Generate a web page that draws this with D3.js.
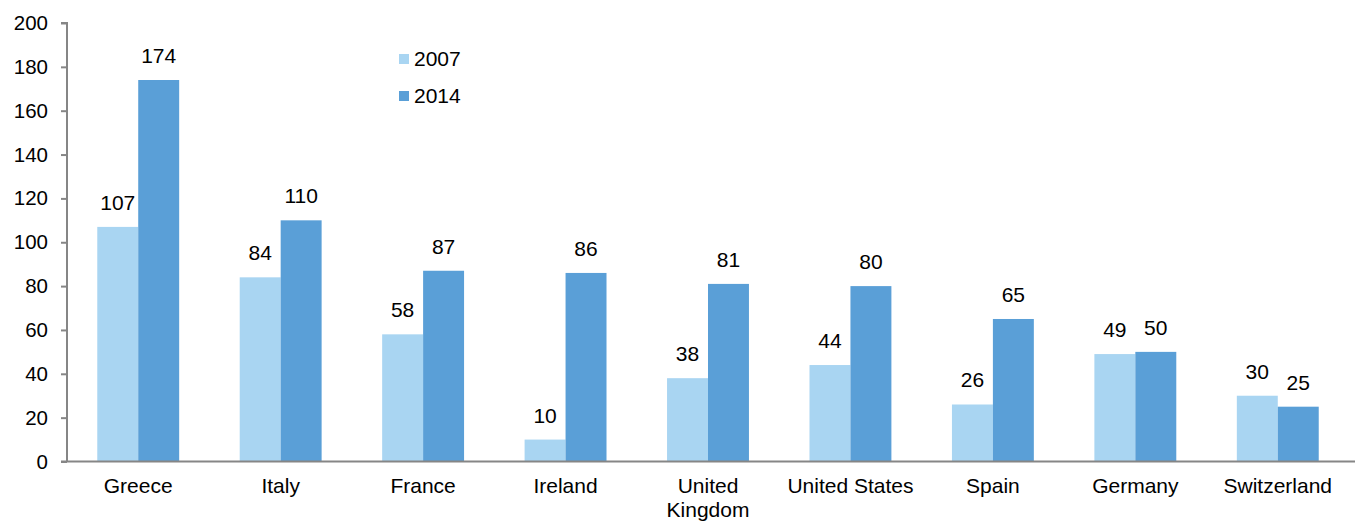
<!DOCTYPE html>
<html>
<head>
<meta charset="utf-8">
<script src="https://cdn.jsdelivr.net/npm/d3@7"></script>
<style>
  html, body { margin: 0; padding: 0; background: #fff; }
  svg { display: block; }
  text { font-family: "Liberation Sans", Arial, sans-serif; fill: #000; }
</style>
</head>
<body>
<svg id="chart" width="1355" height="522"></svg>
<script>
// Government debt, % of GDP
const countries = ["Greece", "Italy", "France", "Ireland", "United Kingdom", "United States", "Spain", "Germany", "Switzerland"];
const values2007 = [107, 84, 58, 10, 38, 44, 26, 49, 30];
const values2014 = [174, 110, 87, 86, 81, 80, 65, 50, 25];
const seriesNames = ["2007", "2014"];
const yTicks = [0, 20, 40, 60, 80, 100, 120, 140, 160, 180, 200];

(function () {
  const colors = { "2007": "#A9D5F2", "2014": "#5A9FD7" };
  const fontSize = 21;
  const tickFont = 20.5;

  const svg = d3.select("#chart");
  const plotLeft = 67, plotRight = 1349, plotTop = 23, plotBottom = 461.5;

  const x = d3.scaleBand().domain(countries).range([plotLeft, plotRight]).paddingInner(0.425).paddingOuter(0.2125);
  const xs = d3.scaleBand().domain(seriesNames).range([0, x.bandwidth()]);
  const y = d3.scaleLinear().domain([0, 200]).range([plotBottom, plotTop]);

  const data = countries.map((c, i) => ({ country: c, values: [
    { key: "2007", value: values2007[i] },
    { key: "2014", value: values2014[i] }
  ]}));

  // bars
  const groups = svg.append("g").selectAll("g").data(data).join("g")
    .attr("transform", d => `translate(${x(d.country)},0)`);

  groups.selectAll("rect").data(d => d.values).join("rect")
    .attr("x", d => xs(d.key))
    .attr("y", d => y(d.value))
    .attr("width", xs.bandwidth())
    .attr("height", d => y(0) - y(d.value))
    .attr("fill", d => colors[d.key]);

  // value labels
  groups.selectAll("text.val").data(d => d.values).join("text")
    .attr("class", "val")
    .attr("x", d => xs(d.key) + xs.bandwidth() / 2)
    .attr("y", d => y(d.value) - 17)
    .attr("text-anchor", "middle")
    .style("font-size", fontSize + "px")
    .text(d => d.value);

  // y axis
  const yAxis = d3.axisLeft(y).tickValues(yTicks).tickSize(6).tickPadding(13);
  const gy = svg.append("g").attr("transform", `translate(${plotLeft},0)`).call(yAxis);
  gy.select(".domain").attr("stroke", "#868686").attr("stroke-width", 2).attr("d", `M-6,${plotTop}H0V${plotBottom}`);
  gy.selectAll(".tick line").attr("stroke", "#868686").attr("stroke-width", 2);
  gy.selectAll(".tick text").style("font-size", tickFont + "px").style("font-family", "Liberation Sans, Arial, sans-serif").attr("fill", "#000");

  // x axis
  const xAxis = d3.axisBottom(x).tickSize(0).tickPadding(17);
  const gx = svg.append("g").attr("transform", `translate(0,${plotBottom})`).call(xAxis);
  gx.select(".domain").attr("stroke", "#868686").attr("stroke-width", 2).attr("d", `M${plotLeft - 6},0H1355`);
  gx.selectAll(".tick text")
    .style("font-size", fontSize + "px")
    .style("font-family", "Liberation Sans, Arial, sans-serif")
    .attr("fill", "#000")
    .each(function (d) {
      const t = d3.select(this);
      if (d === "United Kingdom") {
        t.text(null);
        t.append("tspan").attr("x", 0).text("United");
        t.append("tspan").attr("x", 0).attr("dy", "1.1em").text("Kingdom");
      }
    });

  // legend
  const legend = svg.append("g").attr("transform", "translate(399,54)");
  seriesNames.forEach((s, i) => {
    const g = legend.append("g").attr("transform", `translate(0,${i * 37})`);
    g.append("rect").attr("width", 10).attr("height", 10).attr("fill", colors[s]);
    g.append("text").attr("x", 15).attr("y", 5).attr("dy", "0.35em")
      .style("font-size", fontSize + "px").text(s);
  });
})();
</script>
</body>
</html>
